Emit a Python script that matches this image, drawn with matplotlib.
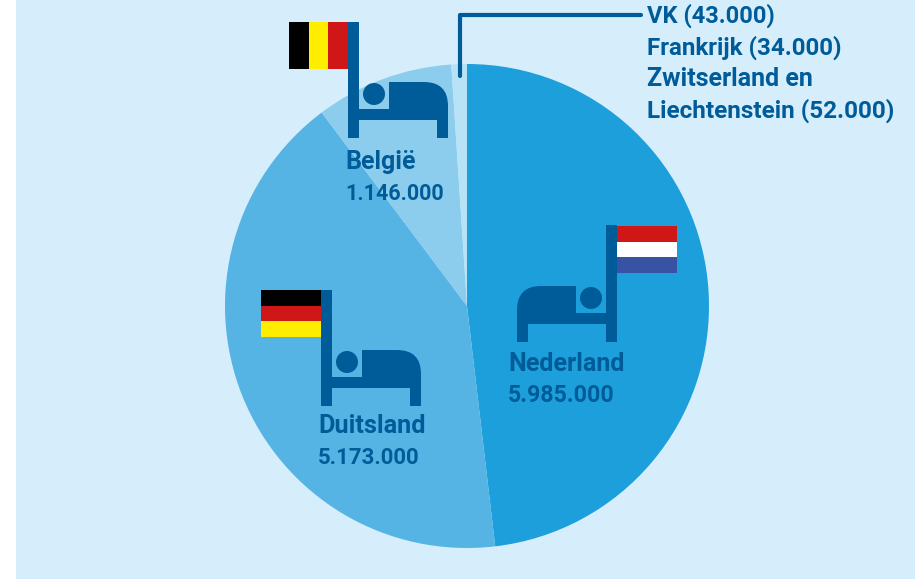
import matplotlib
matplotlib.use("Agg")
import matplotlib.pyplot as plt
from matplotlib.patches import Rectangle, Circle, PathPatch
from matplotlib.path import Path

W, H = 915, 579
BG = "#d6eefb"
DARK = "#005c99"

categories = ["Nederland", "Duitsland", "België", "Overig"]
values = [5985000, 5173000, 1146000, 129000]
colors = ["#1d9fdb", "#55b4e4", "#8ccdee", "#b8e3f6"]
labels = [("Nederland", "5.985.000"), ("Duitsland", "5.173.000"), ("België", "1.146.000")]
other_lines = ["VK (43.000)", "Frankrijk (34.000)", "Zwitserland en", "Liechtenstein (52.000)"]

plt.rcParams["font.family"] = ["Roboto", "DejaVu Sans"]
fig = plt.figure(figsize=(W / 100, H / 100), dpi=100, facecolor="white")
ax = fig.add_axes([0, 0, 1, 1])
ax.add_patch(Rectangle((16, 0), W - 16, H, fc=BG, ec="none", zorder=0))
ax.pie(values, colors=colors, startangle=90, counterclock=False,
       center=(467, H - 306), radius=242, frame=True, wedgeprops=dict(linewidth=0))
ax.set_xlim(0, W)
ax.set_ylim(0, H)
ax.set_aspect("equal")
ax.axis("off")


def Y(y):
    return H - y


def rect(x0, y0, x1, y1, color, z=3):
    ax.add_patch(Rectangle((x0, Y(y1)), x1 - x0, y1 - y0, fc=color, ec="none", zorder=z))


def bed(pole_x, top, base, direction):
    """Bed icon: pole_x = outer edge of the pole, direction = +1 when body extends right."""
    d = direction
    pw = 11
    far = pole_x + d * 100
    rect(min(pole_x, pole_x + d * pw), top, max(pole_x, pole_x + d * pw), base, DARK)
    rect(min(pole_x, far), base - 29, max(pole_x, far), base - 18, DARK)
    rect(min(far, far - d * pw), base - 29, max(far, far - d * pw), base, DARK)
    x0 = pole_x + d * 41
    yb, yt = Y(base - 20), Y(base - 56)
    r = 24
    verts = [(x0, yb), (x0, yt), (far - d * r, yt), (far, yt), (far, yt - r), (far, yb), (x0, yb)]
    codes = [Path.MOVETO, Path.LINETO, Path.LINETO, Path.CURVE3, Path.CURVE3, Path.LINETO, Path.CLOSEPOLY]
    ax.add_patch(PathPatch(Path(verts, codes), fc=DARK, ec="none", zorder=3))
    ax.add_patch(Circle((pole_x + d * 26, Y(base - 44)), 11, fc=DARK, ec="none", zorder=3))


def hflag(x0, y0, x1, y1, cols):
    h = (y1 - y0) / 3
    for i, c in enumerate(cols):
        rect(x0, y0 + i * h, x1, y0 + (i + 1) * h, c, 4)


def vflag(x0, y0, x1, y1, cols):
    w = (x1 - x0) / 3
    for i, c in enumerate(cols):
        rect(x0 + i * w, y0, x0 + (i + 1) * w, y1, c, 4)


bed(617, 225, 342, -1)
hflag(617, 226, 677, 273, ["#cf1717", "#ffffff", "#3853a4"])
bed(321, 290, 406, 1)
hflag(261, 290, 321, 337, ["#000000", "#cf1717", "#ffed00"])
bed(348, 22, 138, 1)
vflag(289, 22, 348, 69, ["#000000", "#ffed00", "#cf1717"])

# leader line
ax.plot([459.7, 459.7, 641], [Y(75.5), Y(14.7), Y(14.7)], color=DARK, lw=3,
        solid_capstyle="round", solid_joinstyle="round", zorder=5)

kw = dict(color=DARK, fontweight="bold", ha="left", va="center", zorder=6)
for (name, val), x, y1, y2, s1, s2 in zip(labels, [508, 318, 345], [364, 426, 162], [396, 458, 194],
                                          [18.1, 18.2, 18], [16.7, 16, 15.5]):
    ax.text(x, Y(y1), name, fontsize=s1, **kw)
    ax.text(x, Y(y2), val, fontsize=s2, **kw)
for line, y, s in zip(other_lines, [16, 48, 79, 111], [17, 17.4, 18, 17.5]):
    ax.text(647, Y(y), line, fontsize=s, **kw)

fig.savefig("out.png", dpi=100)
